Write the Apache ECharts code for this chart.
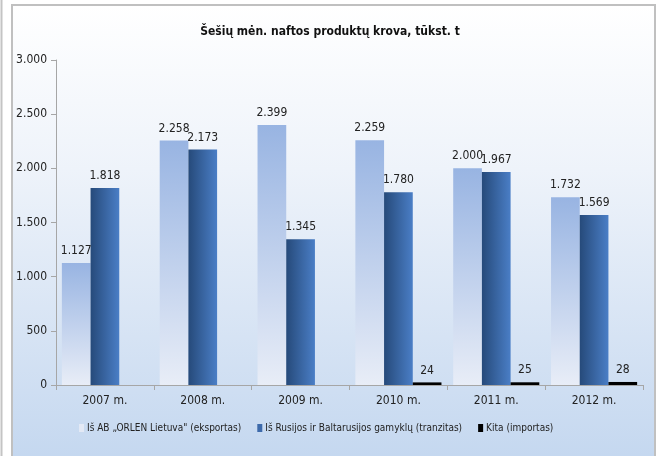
<!DOCTYPE html>
<html>
<head>
<meta charset="utf-8">
<script src="https://cdn.jsdelivr.net/npm/echarts@6/dist/echarts.min.js"></script>
<style>
  html, body { margin: 0; padding: 0; background: #fff; }
  #chart { width: 660px; height: 456px; }
</style>
</head>
<body>
<div id="chart"></div>
<script>
var categories = ['2007 m.', '2008 m.', '2009 m.', '2010 m.', '2011 m.', '2012 m.'];
var orlenValues = [1127, 2258, 2399, 2259, 2000, 1732];
var transitValues = [1818, 2173, 1345, 1780, 1967, 1569];
var otherValues = [null, null, null, 24, 25, 28];
var yTicks = [0, 500, 1000, 1500, 2000, 2500, 3000];

var FONT = '"DejaVu Sans Condensed", "Liberation Sans", sans-serif';

// thousands with a dot, like 1.127
function fmt(v) {
    return String(v).replace(/\B(?=(\d{3})+(?!\d))/g, '.');
}

var myChart = echarts.init(document.getElementById('chart'));

var labelStyle = {
    show: true,
    position: 'top',
    distance: 6,
    color: '#222',
    fontSize: 12,
    fontFamily: FONT,
    formatter: function (p) { return p.value == null ? '' : fmt(p.value); }
};

var option = {
    animation: false,
    graphic: [
        { type: 'line', shape: { x1: 1.5, y1: 0, x2: 1.5, y2: 456 }, style: { stroke: '#c4c4c4', lineWidth: 2 }, z: -10 },
        {
            type: 'rect',
            shape: { x: 12, y: 5, width: 643, height: 470 },
            style: {
                fill: new echarts.graphic.LinearGradient(0, 0, 0, 1, [
                    { offset: 0, color: '#ffffff' },
                    { offset: 0.35, color: '#eef3fa' },
                    { offset: 1, color: '#c2d6ef' }
                ]),
                stroke: '#c0c0c0',
                lineWidth: 2
            },
            z: -10
        }
    ],
    title: {
        text: 'Šešių mėn. naftos produktų krova, tūkst. t',
        left: 'center',
        top: 21,
        textStyle: { fontFamily: FONT, fontSize: 12, fontWeight: 'bold', color: '#111' }
    },
    legend: {
        bottom: 18,
        left: 74,
        width: 600,
        itemWidth: 5,
        itemHeight: 8,
        itemGap: 16,
        icon: 'rect',
        textStyle: { fontFamily: FONT, fontSize: 10, color: '#222', padding: [0, 0, 0, -2] },
        data: [
            { name: 'Iš AB „ORLEN Lietuva" (eksportas)', itemStyle: { color: '#e3e9f5' } },
            { name: 'Iš Rusijos ir Baltarusijos gamyklų (tranzitas)', itemStyle: { color: '#3d6aab' } },
            { name: 'Kita (importas)', itemStyle: { color: '#000' } }
        ]
    },
    grid: { left: 56, right: 17, top: 60, bottom: 71 },
    xAxis: {
        type: 'category',
        data: categories,
        axisLine: { lineStyle: { color: '#a6a6a6' } },
        axisTick: { show: true, length: 5, lineStyle: { color: '#a6a6a6' } },
        axisLabel: { color: '#222', fontSize: 12, fontFamily: FONT, margin: 10 },
        splitLine: { show: false }
    },
    yAxis: {
        type: 'value',
        min: yTicks[0],
        max: yTicks[yTicks.length - 1],
        interval: 500,
        axisLine: { show: true, lineStyle: { color: '#a6a6a6' } },
        axisTick: { show: true, length: 5, lineStyle: { color: '#a6a6a6' } },
        axisLabel: { color: '#222', fontSize: 12, fontFamily: FONT, margin: 9, formatter: function (v) { return fmt(v); } },
        splitLine: { show: false }
    },
    series: [
        {
            name: 'Iš AB „ORLEN Lietuva" (eksportas)',
            type: 'bar',
            data: orlenValues,
            barGap: '0%',
            barCategoryGap: '12%',
            itemStyle: {
                color: new echarts.graphic.LinearGradient(0, 0, 0, 1, [
                    { offset: 0, color: '#98b4e2' },
                    { offset: 1, color: '#e8edf7' }
                ])
            },
            label: labelStyle
        },
        {
            name: 'Iš Rusijos ir Baltarusijos gamyklų (tranzitas)',
            type: 'bar',
            data: transitValues,
            itemStyle: {
                color: new echarts.graphic.LinearGradient(0, 0, 1, 0, [
                    { offset: 0, color: '#264a7a' },
                    { offset: 1, color: '#4a7ec6' }
                ])
            },
            label: labelStyle
        },
        {
            name: 'Kita (importas)',
            type: 'bar',
            data: otherValues,
            itemStyle: { color: '#000' },
            label: labelStyle
        }
    ]
};

myChart.setOption(option);
</script>
</body>
</html>
